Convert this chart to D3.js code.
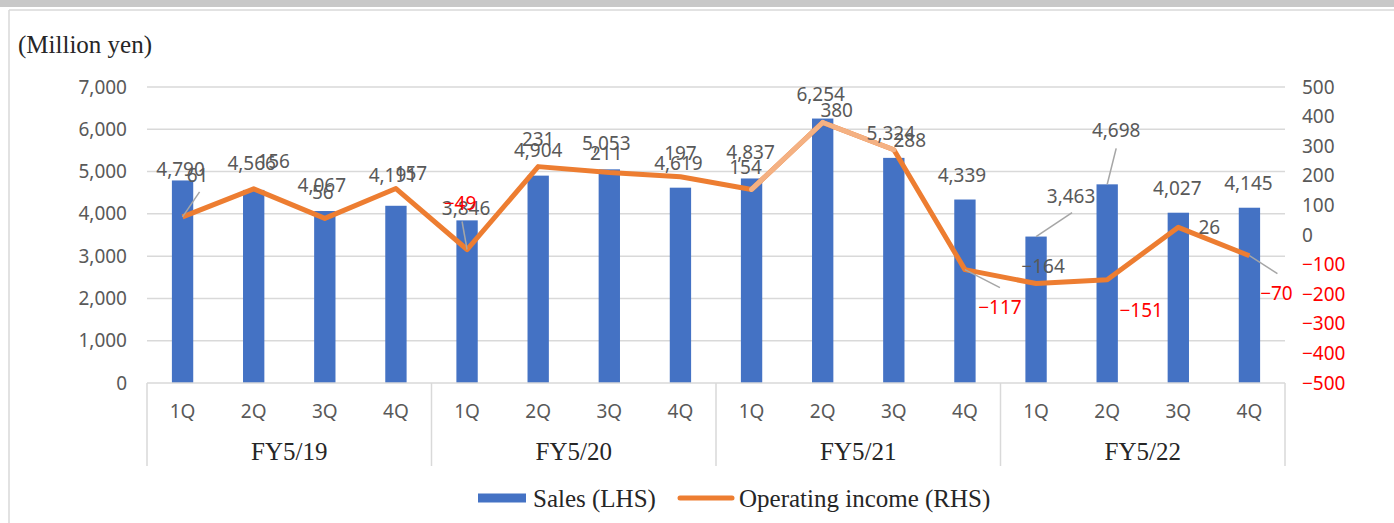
<!DOCTYPE html>
<html>
<head>
<meta charset="utf-8">
<script src="https://cdn.jsdelivr.net/npm/d3@7"></script>
<style>
  body { margin: 0; background: #fff; }
  svg { display: block; }
</style>
</head>
<body>
<div id="chart"></div>
<script>
// data
const years = ["FY5/19", "FY5/20", "FY5/21", "FY5/22"]
const quarters = ["1Q", "2Q", "3Q", "4Q"]
const sales = [4790, 4566, 4067, 4191, 3846, 4904, 5053, 4619, 4837, 6254, 5324, 4339, 3463, 4698, 4027, 4145]
const opIncome = [61, 156, 56, 157, -49, 231, 211, 197, 154, 380, 288, -117, -164, -151, 26, -70]
const leftTicks = [0, 1000, 2000, 3000, 4000, 5000, 6000, 7000]
const rightTicks = [-500, -400, -300, -200, -100, 0, 100, 200, 300, 400, 500]
// segments of the income line drawn in the light tint (from index to index+1)
const lightSegments = [8, 9]
// income labels printed in red
const redLabels = [4, 11, 13, 15]

// hand-placed data labels: [dx, dy] from the mark, leader = end of leader line
const salesNudge = [[-2, -11], [-2, -27], [-3, -26], [-3, -31], [-1, -12], [0, -26], [-3, -26], [-2, -25],
    [-1, -26], [-2, -25], [-3, -25], [-3, -25], [35, -41], [9, -54], [-1, -25], [-1, -25]]
const salesLeader = { 12: [36, -24], 13: [9, -36] }
const opNudge = [[15, -42], [20, -28], [-2, -26], [15, -16], [-7, -47], [0, -28], [-3, -20], [0, -24],
    [-6, -22], [14, -13], [16, -10], [35, 37], [7, -18], [34, 30], [31, 0], [27, 37]]
const opLeader = { 0: [17, -25], 4: [-5, -28], 11: [35, 18], 15: [28, 18] }

const width = 1394, height = 523
const plot = { left: 147, right: 1285, top: 87, bottom: 383 }

const svg = d3.select("#chart")
    .append("svg")
    .attr("width", width)
    .attr("height", height)

const sansFont = "'Noto Sans', 'DejaVu Sans', sans-serif"
const serifFont = "'Liberation Serif', 'DejaVu Serif', serif"
const textGray = "#595959"
const gridColor = "#d9d9d9"

// frame like the screenshot
svg.append("rect").attr("x", 0).attr("y", 0).attr("width", width).attr("height", 7).attr("fill", "#c8c8c8")
svg.append("line").attr("x1", 9).attr("x2", width).attr("y1", 10).attr("y2", 10)
    .attr("stroke", gridColor).attr("stroke-width", 1.5)
svg.append("line").attr("x1", 9).attr("x2", 9).attr("y1", 10).attr("y2", height)
    .attr("stroke", gridColor).attr("stroke-width", 1.5)

// scales
const keys = sales.map((d, i) => i)
const x = d3.scaleBand()
    .domain(keys)
    .range([plot.left, plot.right])
    .paddingInner(0.7)
    .paddingOuter(0.35)
const cx = i => x(i) + x.bandwidth() / 2

const yL = d3.scaleLinear().domain([0, 7000]).range([plot.bottom, plot.top])
const yR = d3.scaleLinear().domain([-500, 500]).range([plot.bottom, plot.top])

// gridlines
svg.append("g")
    .selectAll("line")
    .data(leftTicks.filter(d => d > 0))
    .join("line")
    .attr("x1", plot.left).attr("x2", plot.right)
    .attr("y1", d => yL(d)).attr("y2", d => yL(d))
    .attr("stroke", gridColor).attr("stroke-width", 1.5)

// left axis
const leftAxis = svg.append("g")
    .attr("transform", `translate(${plot.left - 20},0)`)
    .call(d3.axisLeft(yL).tickValues(leftTicks).tickSize(0).tickPadding(0).tickFormat(d3.format(",")))
leftAxis.select(".domain").remove()
leftAxis.selectAll("text")
    .attr("font-family", sansFont).attr("font-size", 19).attr("fill", textGray)

// right axis, negatives in red
const minus = d => d < 0 ? "\u2212" + Math.abs(d) : String(d)
const rightAxis = svg.append("g")
    .attr("transform", `translate(${plot.right + 17},0)`)
    .call(d3.axisRight(yR).tickValues(rightTicks).tickSize(0).tickPadding(0).tickFormat(minus))
rightAxis.select(".domain").remove()
rightAxis.selectAll("text")
    .attr("font-family", sansFont).attr("font-size", 19)
    .attr("fill", d => d < 0 ? "#ff0000" : textGray)

// bars
svg.append("g")
    .selectAll("rect")
    .data(sales)
    .join("rect")
    .attr("x", (d, i) => x(i))
    .attr("width", x.bandwidth())
    .attr("y", d => yL(d))
    .attr("height", d => yL(0) - yL(d))
    .attr("fill", "#4472c4")

// category axis: baseline, group separators, quarter + year labels
svg.append("line")
    .attr("x1", plot.left).attr("x2", plot.right)
    .attr("y1", plot.bottom).attr("y2", plot.bottom)
    .attr("stroke", gridColor).attr("stroke-width", 1.5)

const step = x.step()
const groupEdges = d3.range(years.length + 1).map(g => plot.left + g * quarters.length * step)
svg.append("g")
    .selectAll("line")
    .data(groupEdges)
    .join("line")
    .attr("x1", d => d).attr("x2", d => d)
    .attr("y1", plot.bottom).attr("y2", 466)
    .attr("stroke", gridColor).attr("stroke-width", 1.5)

svg.append("g")
    .selectAll("text")
    .data(keys)
    .join("text")
    .attr("x", i => cx(i))
    .attr("y", 411)
    .attr("text-anchor", "middle")
    .attr("dominant-baseline", "central")
    .attr("font-family", sansFont).attr("font-size", 19).attr("fill", textGray)
    .text(i => quarters[i % quarters.length])

svg.append("g")
    .selectAll("text")
    .data(years)
    .join("text")
    .attr("x", (d, g) => (groupEdges[g] + groupEdges[g + 1]) / 2)
    .attr("y", 451)
    .attr("text-anchor", "middle")
    .attr("dominant-baseline", "central")
    .attr("font-family", serifFont).attr("font-size", 25).attr("fill", "#262626")
    .text(d => d)

// operating income line
const line = d3.line()
    .x((d, i) => cx(i))
    .y(d => yR(d))
svg.append("path")
    .datum(opIncome)
    .attr("d", line)
    .attr("fill", "none")
    .attr("stroke", "#ed7d31")
    .attr("stroke-width", 5)
    .attr("stroke-linejoin", "round")

svg.append("g")
    .selectAll("line")
    .data(lightSegments)
    .join("line")
    .attr("x1", i => cx(i)).attr("y1", i => yR(opIncome[i]))
    .attr("x2", i => cx(i + 1)).attr("y2", i => yR(opIncome[i + 1]))
    .attr("stroke", "#f4b183")
    .attr("stroke-width", 5)
    .attr("stroke-linecap", "round")

// leader lines
const leaders = []
Object.entries(salesLeader).forEach(([i, d]) => leaders.push([cx(+i), yL(sales[i]), d]))
Object.entries(opLeader).forEach(([i, d]) => leaders.push([cx(+i), yR(opIncome[i]), d]))
svg.append("g")
    .selectAll("line")
    .data(leaders)
    .join("line")
    .attr("x1", d => d[0]).attr("y1", d => d[1])
    .attr("x2", d => d[0] + d[2][0]).attr("y2", d => d[1] + d[2][1])
    .attr("stroke", "#a6a6a6").attr("stroke-width", 1.5)

// data labels
svg.append("g")
    .selectAll("text")
    .data(sales)
    .join("text")
    .attr("x", (d, i) => cx(i) + salesNudge[i][0])
    .attr("y", (d, i) => yL(d) + salesNudge[i][1])
    .attr("text-anchor", "middle")
    .attr("dominant-baseline", "central")
    .attr("font-family", sansFont).attr("font-size", 19).attr("fill", textGray)
    .text(d => d3.format(",")(d))

svg.append("g")
    .selectAll("text")
    .data(opIncome)
    .join("text")
    .attr("x", (d, i) => cx(i) + opNudge[i][0])
    .attr("y", (d, i) => yR(d) + opNudge[i][1])
    .attr("text-anchor", "middle")
    .attr("dominant-baseline", "central")
    .attr("font-family", sansFont).attr("font-size", 19)
    .attr("fill", (d, i) => redLabels.includes(i) ? "#ff0000" : textGray)
    .text(d => minus(d))

// unit title
svg.append("text")
    .attr("x", 18).attr("y", 44)
    .attr("dominant-baseline", "central")
    .attr("font-family", serifFont).attr("font-size", 25).attr("fill", "#262626")
    .text("(Million yen)")

// legend
const legend = svg.append("g").attr("transform", "translate(478,498)")
legend.append("rect").attr("x", 0).attr("y", -4.5).attr("width", 48).attr("height", 9).attr("fill", "#4472c4")
legend.append("text").attr("x", 55).attr("y", 0)
    .attr("dominant-baseline", "central")
    .attr("font-family", serifFont).attr("font-size", 25).attr("fill", "#262626")
    .text("Sales (LHS)")
legend.append("line").attr("x1", 202).attr("x2", 254).attr("y1", 0).attr("y2", 0)
    .attr("stroke", "#ed7d31").attr("stroke-width", 5).attr("stroke-linecap", "round")
legend.append("text").attr("x", 261).attr("y", 0)
    .attr("dominant-baseline", "central")
    .attr("font-family", serifFont).attr("font-size", 25).attr("fill", "#262626")
    .text("Operating income (RHS)")
</script>
</body>
</html>
